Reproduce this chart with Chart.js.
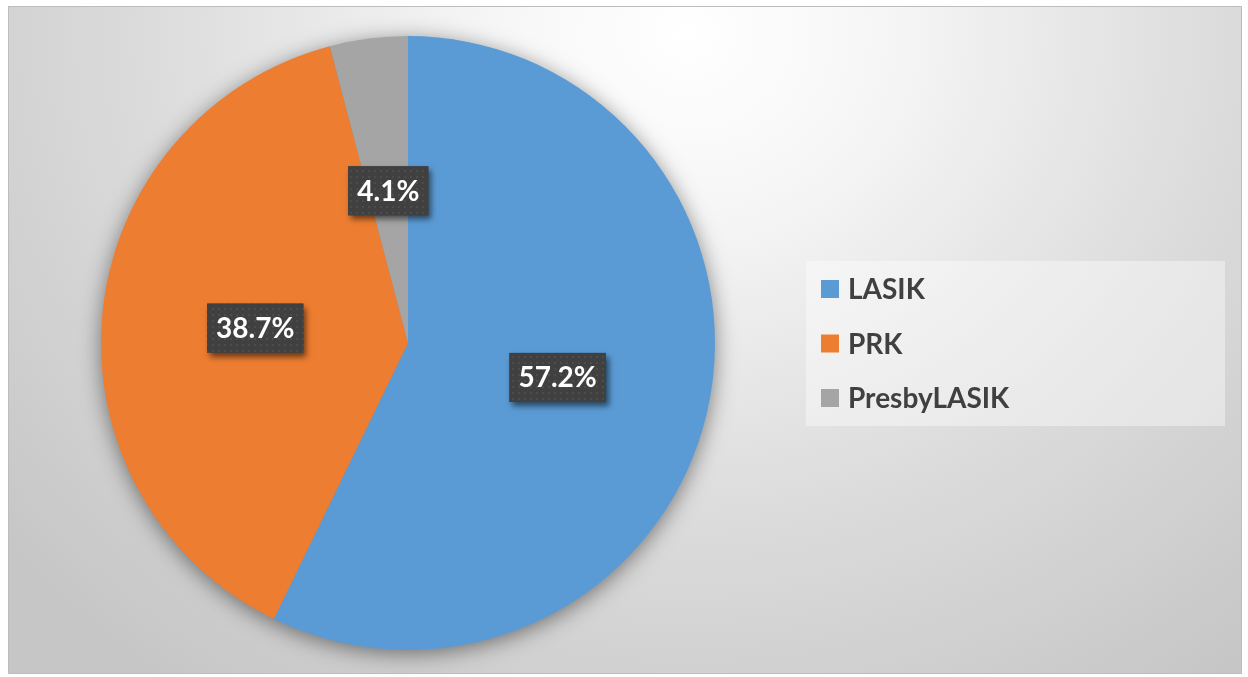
<!DOCTYPE html>
<html>
<head>
<meta charset="utf-8">
<script src="https://cdn.jsdelivr.net/npm/chart.js@4.4.1/dist/chart.umd.min.js"></script>
<style>
  html, body { margin: 0; padding: 0; background: #fff; }
  #frame {
    position: absolute; left: 8px; top: 6px; width: 1232px; height: 666px;
    border: 1px solid #bdbdbd;
    background: radial-gradient(ellipse 72% 120% at 55% 4%, #ffffff 0%, #f6f6f6 22%, #dcdcdc 60%, #c6c6c6 100%);
  }
  canvas { position: absolute; left: 0; top: 0; }
</style>
</head>
<body>
<div id="frame"></div>
<canvas id="myChart" width="1248" height="677"></canvas>
<script>
const categories = ['LASIK', 'PRK', 'PresbyLASIK'];
const shares = [57.2, 38.7, 4.1];
const colours = ['#5B9BD5', '#ED7D31', '#A5A5A5'];

const FONT = 'Lato, "Open Sans", sans-serif';

// dotted dark fill used behind the data labels
const makeDots = (ctx) => {
    const c = document.createElement('canvas');
    c.width = 6;
    c.height = 6;
    const p = c.getContext('2d');
    p.fillStyle = '#404040';
    p.fillRect(0, 0, 6, 6);
    p.fillStyle = '#4c4c4c';
    p.fillRect(2, 2, 2, 2);
    return ctx.createPattern(c, 'repeat');
};

const pieShadow = {
    id: 'pieShadow',
    beforeDatasetsDraw(chart) {
        const arc = chart.getDatasetMeta(0).data[0];
        if (!arc) return;
        const ctx = chart.ctx;
        ctx.save();
        ctx.shadowColor = 'rgba(0,0,0,0.5)';
        ctx.shadowBlur = 22;
        ctx.shadowOffsetY = 4;
        ctx.fillStyle = '#888';
        ctx.beginPath();
        ctx.arc(arc.x, arc.y, arc.outerRadius - 1, 0, Math.PI * 2);
        ctx.fill();
        ctx.restore();
    },
};

const valueLabels = {
    id: 'valueLabels',
    afterDatasetsDraw(chart) {
        const ctx = chart.ctx;
        const dots = makeDots(ctx);
        chart.getDatasetMeta(0).data.forEach((arc, i) => {
            const pt = arc.tooltipPosition();
            const text = shares[i].toFixed(1) + '%';
            ctx.save();
            ctx.font = 'bold 28px ' + FONT;
            const w = ctx.measureText(text).width + 18;
            const h = 49;
            const x = pt.x - w / 2;
            const y = pt.y - h / 2;
            ctx.shadowColor = 'rgba(0,0,0,0.55)';
            ctx.shadowBlur = 6;
            ctx.shadowOffsetX = 3;
            ctx.shadowOffsetY = 4;
            ctx.fillStyle = '#404040';
            ctx.fillRect(x, y, w, h);
            ctx.shadowColor = 'transparent';
            ctx.fillStyle = dots;
            ctx.fillRect(x, y, w, h);
            ctx.fillStyle = '#ffffff';
            ctx.textAlign = 'center';
            ctx.textBaseline = 'middle';
            ctx.fillText(text, pt.x, pt.y + 1);
            ctx.restore();
        });
    },
};

const sideLegend = {
    id: 'sideLegend',
    afterDraw(chart) {
        const ctx = chart.ctx;
        ctx.save();
        ctx.fillStyle = 'rgba(255,255,255,0.4)';
        ctx.fillRect(806, 261, 419, 165);
        ctx.font = 'bold 28px ' + FONT;
        ctx.textBaseline = 'middle';
        categories.forEach((name, i) => {
            const cy = 289 + i * 54.5;
            ctx.fillStyle = colours[i];
            ctx.fillRect(821, cy - 9, 18, 18);
            ctx.fillStyle = '#404040';
            ctx.fillText(name, 848, cy + 1);
        });
        ctx.restore();
    },
};

new Chart(document.getElementById('myChart').getContext('2d'), {
    type: 'pie',
    data: {
        labels: categories,
        datasets: [
            {
                data: shares,
                backgroundColor: colours,
                borderWidth: 0,
            },
        ],
    },
    options: {
        responsive: false,
        animation: false,
        layout: {
            padding: { left: 101, top: 36, right: 533, bottom: 27 },
        },
        plugins: {
            legend: { display: false },
            tooltip: { enabled: false },
        },
    },
    plugins: [pieShadow, valueLabels, sideLegend],
});
</script>
</body>
</html>
